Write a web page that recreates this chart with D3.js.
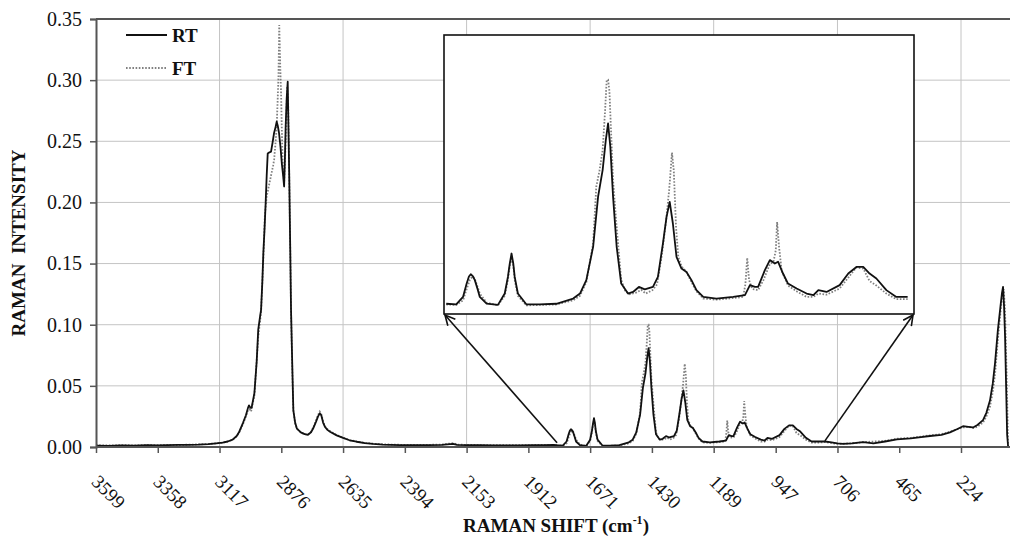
<!DOCTYPE html>
<html>
<head>
<meta charset="utf-8">
<script src="https://cdn.jsdelivr.net/npm/d3@7"></script>
<style>
  html, body { margin: 0; padding: 0; background: #fff; }
  svg { display: block; }
  text { font-family: "Liberation Serif", "Times New Roman", serif; fill: #111; }
</style>
</head>
<body>
<svg id="chart" width="1010" height="539"></svg>
<script>
// ---------------- DATA ----------------
const xTickLabels = [3599, 3358, 3117, 2876, 2635, 2394, 2153, 1912, 1671, 1430, 1189, 947, 706, 465, 224];
const xGridValues = [3117, 2635, 2153, 1671, 1189, 706, 224];
const yTickValues = [0.00, 0.05, 0.10, 0.15, 0.20, 0.25, 0.30, 0.35];
const seriesNames = ["RT", "FT"];
const zoomRange = [1800, 755];

const rtShift = [3599,3550,3500,3450,3400,3358,3320,3280,3240,3200,3160,3130,3105,3085,3066,3050,3040,3025,3014,3006,3002,2996,2992,2981,2972,2966,2958,2955,2950,2946,2941,2937,2933,2929,2922,2916,2910,2904,2898,2894,2890,2885,2879,2874,2869,2865,2862,2859,2855,2851,2848,2845,2841,2838,2833,2829,2822,2815,2800,2785,2772,2760,2751,2740,2733,2726,2720,2713,2706,2696,2686,2660,2635,2610,2582,2550,2518,2480,2413,2350,2300,2250,2206,2190,2153,2100,2050,2000,1950,1894,1850,1816,
1800,1778,1763,1755,1750,1746,1741,1737,1731,1726,1711,1686,1671,1664,1660,1656,1652,1649,1642,1623,1594,1557,1520,1505,1491,1476,1465,1455,1448,1443,1438,1432,1424,1414,1399,1388,1375,1362,1344,1333,1322,1314,1307,1300,1292,1281,1270,1259,1248,1233,1204,1167,1141,1130,1119,1112,1097,1086,1075,1068,1057,1046,1027,1005,990,979,961,932,913,895,880,866,851,829,807,782,
755,735,706,684,650,606,566,520,474,420,380,345,300,267,240,216,195,177,160,138,125,111,100,91,80,70,64,60,56,52,48,44,40];
const rtIntensity = [0.0012,0.0010,0.0014,0.0012,0.0015,0.0013,0.0016,0.0017,0.0018,0.0020,0.0024,0.0030,0.0036,0.0045,0.0060,0.0090,0.0125,0.0200,0.0260,0.0320,0.0340,0.0320,0.0320,0.0440,0.0700,0.0960,0.1080,0.1120,0.1350,0.1590,0.1800,0.2000,0.2220,0.2400,0.2410,0.2415,0.2490,0.2570,0.2620,0.2660,0.2630,0.2570,0.2450,0.2320,0.2220,0.2130,0.2350,0.2620,0.2850,0.2987,0.2600,0.2210,0.1600,0.1120,0.0650,0.0300,0.0200,0.0150,0.0120,0.0105,0.0100,0.0120,0.0155,0.0210,0.0248,0.0275,0.0260,0.0200,0.0166,0.0140,0.0125,0.0095,0.0074,0.0055,0.0043,0.0032,0.0025,0.0020,0.0016,0.0015,0.0016,0.0017,0.0025,0.0018,0.0016,0.0015,0.0014,0.0013,0.0014,0.0015,0.0016,0.0018,
0.0015,0.0012,0.0045,0.0104,0.0135,0.0145,0.0135,0.0119,0.0080,0.0045,0.0016,0.0010,0.0060,0.0133,0.0190,0.0236,0.0190,0.0133,0.0060,0.0012,0.0012,0.0015,0.0038,0.0060,0.0119,0.0265,0.0486,0.0603,0.0735,0.0808,0.0705,0.0486,0.0265,0.0104,0.0060,0.0067,0.0089,0.0078,0.0089,0.0133,0.0280,0.0397,0.0463,0.0368,0.0221,0.0170,0.0155,0.0119,0.0075,0.0045,0.0038,0.0045,0.0053,0.0097,0.0089,0.0089,0.0163,0.0207,0.0192,0.0200,0.0148,0.0104,0.0082,0.0060,0.0053,0.0075,0.0067,0.0097,0.0148,0.0177,0.0177,0.0148,0.0126,0.0075,0.0045,0.0045,
0.0045,0.0040,0.0030,0.0025,0.0030,0.0040,0.0030,0.0045,0.0062,0.0070,0.0080,0.0090,0.0100,0.0120,0.0145,0.0170,0.0165,0.0160,0.0180,0.0220,0.0280,0.0380,0.0520,0.0690,0.0960,0.1150,0.1260,0.1310,0.1150,0.0900,0.0500,0.0100,0.0000];

const ftShift = [3599,3550,3500,3450,3400,3358,3320,3280,3240,3200,3160,3130,3105,3085,3066,3050,3040,3025,3014,3006,3000,2994,2981,2966,2955,2946,2940,2933,2926,2916,2908,2904,2898,2894,2890,2887,2884,2880,2877,2874,2871,2865,2859,2853,2849,2845,2841,2838,2833,2829,2822,2815,2800,2785,2772,2760,2751,2740,2733,2726,2720,2713,2706,2696,2686,2660,2635,2610,2582,2550,2518,2480,2413,2350,2300,2250,2206,2190,2153,2100,2050,2000,1950,1894,1850,1816,
1800,1778,1763,1755,1748,1742,1737,1731,1726,1711,1686,1671,1664,1660,1656,1652,1649,1642,1623,1594,1557,1520,1505,1491,1476,1469,1462,1455,1450,1446,1443,1440,1438,1432,1426,1421,1414,1405,1395,1380,1370,1360,1345,1335,1325,1315,1308,1302,1298,1293,1288,1281,1270,1259,1248,1233,1204,1167,1145,1140,1136,1132,1125,1112,1100,1086,1078,1073,1070,1066,1060,1046,1027,1005,990,979,961,932,913,895,880,866,851,829,807,782,
755,706,650,606,520,474,420,380,345,300,267,240,216,195,177,160,138,125,111,100,91,80,70,62,57,52,46,42,40];
const ftIntensity = [0.0015,0.0012,0.0016,0.0013,0.0017,0.0015,0.0018,0.0016,0.0019,0.0021,0.0025,0.0030,0.0036,0.0045,0.0058,0.0088,0.0120,0.0190,0.0250,0.0300,0.0310,0.0290,0.0420,0.0900,0.1100,0.1550,0.1900,0.2050,0.2120,0.2220,0.2300,0.2350,0.2500,0.2620,0.2850,0.3030,0.3450,0.3100,0.2900,0.2600,0.2350,0.2160,0.2490,0.2950,0.2800,0.2210,0.1600,0.1100,0.0620,0.0300,0.0190,0.0150,0.0120,0.0105,0.0102,0.0125,0.0160,0.0220,0.0260,0.0290,0.0270,0.0210,0.0170,0.0145,0.0130,0.0098,0.0076,0.0057,0.0045,0.0034,0.0027,0.0022,0.0018,0.0016,0.0018,0.0019,0.0032,0.0020,0.0017,0.0016,0.0015,0.0014,0.0015,0.0016,0.0017,0.0015,
0.0012,0.0010,0.0030,0.0080,0.0120,0.0135,0.0125,0.0090,0.0060,0.0020,0.0008,0.0050,0.0120,0.0180,0.0220,0.0180,0.0120,0.0050,0.0008,0.0010,0.0012,0.0030,0.0050,0.0110,0.0280,0.0530,0.0600,0.0690,0.0850,0.0999,0.1000,0.0950,0.0850,0.0560,0.0400,0.0280,0.0120,0.0070,0.0057,0.0065,0.0076,0.0060,0.0075,0.0100,0.0220,0.0380,0.0520,0.0680,0.0600,0.0350,0.0220,0.0180,0.0155,0.0110,0.0070,0.0038,0.0033,0.0040,0.0045,0.0100,0.0217,0.0120,0.0080,0.0075,0.0120,0.0190,0.0200,0.0250,0.0375,0.0270,0.0160,0.0095,0.0070,0.0045,0.0045,0.0060,0.0055,0.0082,0.0130,0.0175,0.0170,0.0115,0.0095,0.0060,0.0035,0.0035,
0.0040,0.0025,0.0030,0.0040,0.0050,0.0068,0.0075,0.0085,0.0095,0.0105,0.0125,0.0145,0.0160,0.0165,0.0155,0.0165,0.0200,0.0250,0.0330,0.0450,0.0600,0.0880,0.1100,0.1260,0.1290,0.1100,0.0600,0.0200,0.0000];

// ---------------- LAYOUT ----------------
const svg = d3.select("#chart");
const W = 1010, H = 539;
const plot = { left: 96, right: 961, top: 19, bottom: 447 };
const inset = { left: 444, right: 914, top: 35, bottom: 314 };

const x = d3.scaleLinear().domain([3599, 224]).range([plot.left, plot.right]);
const y = d3.scaleLinear().domain([0, 0.35]).range([plot.bottom, plot.top]);
const xi = d3.scaleLinear().domain([1805, 768]).range([inset.left, inset.right]);
const yi = d3.scaleLinear().domain([-0.003, 0.1197]).range([inset.bottom, inset.top]);

const rt = rtShift.map((s, i) => [s, rtIntensity[i]]);
const ft = ftShift.map((s, i) => [s, ftIntensity[i]]);

const rtColor = "#111", ftColor = "#808080";
const rtWidth = 1.8, ftWidth = 1.8, ftDash = "1.6,1.6";

// grid
const grid = svg.append("g");
grid.selectAll("line.h").data(yTickValues.filter(v => v > 0 && v < 0.35)).join("line")
  .attr("x1", plot.left).attr("x2", W).attr("y1", d => y(d)).attr("y2", d => y(d))
  .attr("stroke", "#c4c4c4").attr("stroke-width", 1);
grid.selectAll("line.v").data(xGridValues).join("line")
  .attr("x1", d => x(d)).attr("x2", d => x(d)).attr("y1", plot.top).attr("y2", plot.bottom)
  .attr("stroke", "#c4c4c4").attr("stroke-width", 1);

// top border
svg.append("line").attr("x1", plot.left).attr("x2", W).attr("y1", y(0.35)).attr("y2", y(0.35))
  .attr("stroke", "#555").attr("stroke-width", 2);

// main lines
const lineMain = d3.line().x(d => x(d[0])).y(d => y(d[1]));
svg.append("path").datum(ft).attr("d", lineMain).attr("fill", "none")
  .attr("stroke", ftColor).attr("stroke-width", ftWidth).attr("stroke-dasharray", ftDash);
svg.append("path").datum(rt).attr("d", lineMain).attr("fill", "none")
  .attr("stroke", rtColor).attr("stroke-width", rtWidth).attr("stroke-linejoin", "round");

// axes
const yAxis = d3.axisLeft(y).tickValues(yTickValues).tickSize(6).tickFormat(d3.format(".2f"));
const gy = svg.append("g").attr("transform", `translate(${plot.left},0)`).call(yAxis);
gy.select(".domain").attr("stroke", "#555").attr("stroke-width", 2);
gy.selectAll(".tick line").attr("stroke", "#555").attr("stroke-width", 1.5);
gy.selectAll(".tick text").attr("font-size", 20).attr("x", -14)
  .style("font-family", '"Liberation Serif", serif').attr("fill", "#111");

const xAxis = d3.axisBottom(x).tickValues(xTickLabels).tickSize(6).tickFormat(d => d);
const gx = svg.append("g").attr("transform", `translate(0,${plot.bottom})`).call(xAxis);
gx.select(".domain").remove();
gx.append("line").attr("x1", plot.left).attr("x2", W).attr("y1", 0).attr("y2", 0)
  .attr("stroke", "#555").attr("stroke-width", 2);
gx.selectAll(".tick line").attr("stroke", "#555").attr("stroke-width", 1.5);
gx.selectAll(".tick text")
  .attr("font-size", 19).attr("text-anchor", "start")
  .attr("x", 0).attr("y", 0).attr("dy", 0)
  .attr("transform", "translate(-6,36) rotate(45)")
  .style("font-family", '"Liberation Serif", serif').attr("fill", "#111");

// axis titles
const xt = svg.append("text").attr("x", 556).attr("y", 532).attr("text-anchor", "middle")
  .attr("font-size", 19).attr("font-weight", "bold");
xt.append("tspan").text("RAMAN SHIFT (cm");
xt.append("tspan").text("-1").attr("font-size", 12).attr("dy", -8);
xt.append("tspan").text(")").attr("dy", 8);

svg.append("text").attr("transform", "translate(25,243) rotate(-90)").attr("text-anchor", "middle")
  .attr("font-size", 19).attr("font-weight", "bold").attr("xml:space", "preserve")
  .text("RAMAN  INTENSITY");

// legend
const legend = svg.append("g");
seriesNames.forEach((name, i) => {
  const ly = 35 + i * 33;
  legend.append("line").attr("x1", 126).attr("x2", 167).attr("y1", ly).attr("y2", ly)
    .attr("stroke", i === 0 ? rtColor : ftColor).attr("stroke-width", rtWidth)
    .attr("stroke-dasharray", i === 0 ? null : ftDash);
  legend.append("text").attr("x", 172).attr("y", ly + 7).attr("font-size", 19)
    .attr("font-weight", "bold").text(name);
});

// zoom arrows
svg.append("defs").append("marker").attr("id", "arr").attr("viewBox", "0 0 12 12")
  .attr("refX", 11).attr("refY", 6).attr("markerWidth", 12).attr("markerHeight", 12)
  .attr("markerUnits", "userSpaceOnUse").attr("orient", "auto")
  .append("path").attr("d", "M1,1 L11,6 L1,11").attr("fill", "none").attr("stroke", "#111").attr("stroke-width", 1.6);

const startL = [x(zoomRange[0]), y(0.0035)];
const startR = [x(zoomRange[1]), y(0.0050)];
svg.append("line").attr("x1", startL[0]).attr("y1", startL[1]).attr("x2", inset.left + 1).attr("y2", inset.bottom + 1)
  .attr("stroke", "#111").attr("stroke-width", 1.6).attr("marker-end", "url(#arr)");
svg.append("line").attr("x1", startR[0]).attr("y1", startR[1]).attr("x2", inset.right - 1).attr("y2", inset.bottom + 1)
  .attr("stroke", "#111").attr("stroke-width", 1.6).attr("marker-end", "url(#arr)");

// inset
const gi = svg.append("g");
gi.append("rect").attr("x", inset.left).attr("y", inset.top)
  .attr("width", inset.right - inset.left).attr("height", inset.bottom - inset.top)
  .attr("fill", "#fff").attr("stroke", "#111").attr("stroke-width", 1.6);
const inRange = d => d[0] <= zoomRange[0] && d[0] >= 780;
const lineInset = d3.line().x(d => xi(d[0])).y(d => yi(d[1]));
gi.append("path").datum(ft.filter(inRange)).attr("d", lineInset).attr("fill", "none")
  .attr("stroke", ftColor).attr("stroke-width", ftWidth).attr("stroke-dasharray", ftDash);
gi.append("path").datum(rt.filter(inRange)).attr("d", lineInset).attr("fill", "none")
  .attr("stroke", rtColor).attr("stroke-width", rtWidth).attr("stroke-linejoin", "round");
</script>
</body>
</html>
